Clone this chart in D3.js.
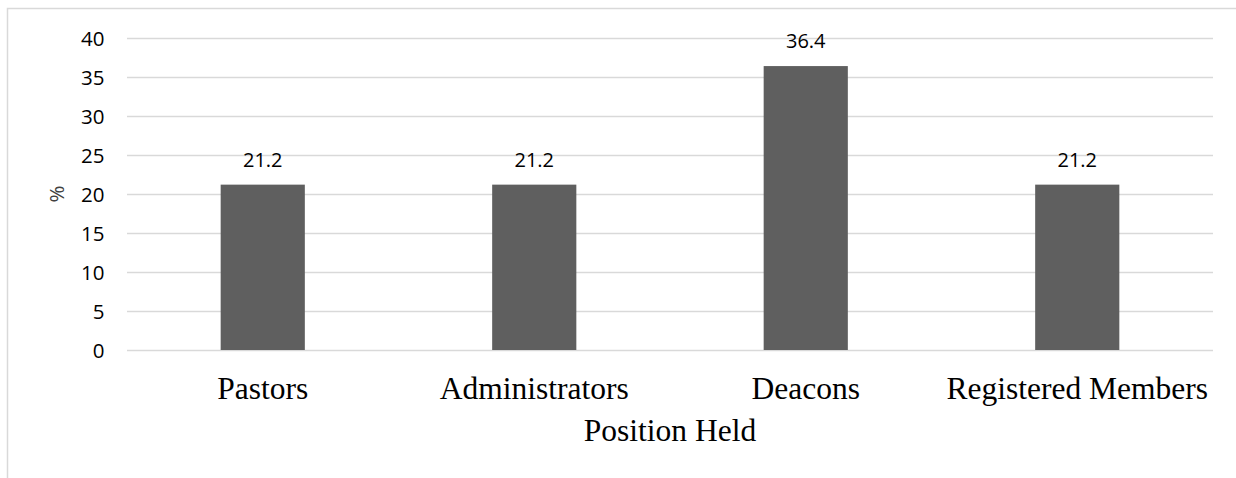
<!DOCTYPE html>
<html>
<head>
<meta charset="utf-8">
<script src="https://cdn.jsdelivr.net/npm/d3@7"></script>
<style>
  html, body { margin: 0; padding: 0; background: #fff; }
  svg { display: block; }
</style>
</head>
<body>
<svg id="chart" width="1236" height="478"></svg>
<script>
// Share of respondents by position held (%)
const categories = ["Pastors", "Administrators", "Deacons", "Registered Members"];
const percentages = [21.2, 21.2, 36.4, 21.2];
const yTicks = [0, 5, 10, 15, 20, 25, 30, 35, 40];

const svg = d3.select("#chart");
const W = 1236, H = 478;
const plot = { left: 127, right: 1213, top: 38, bottom: 350 };
const sans = "'Open Sans', sans-serif";
const serif = "'Liberation Serif', 'Times New Roman', serif";

// chart area frame
svg.append("rect")
  .attr("x", 7.5).attr("y", 8.5)
  .attr("width", W + 10).attr("height", H + 10)
  .attr("fill", "#fff")
  .attr("stroke", "#d9d9d9").attr("stroke-width", 1.5);

const x = d3.scaleBand()
  .domain(categories)
  .range([plot.left, plot.right])
  .paddingInner(0.69)
  .paddingOuter(0.345);

const y = d3.scaleLinear()
  .domain([0, 40])
  .range([plot.bottom, plot.top]);

// horizontal gridlines
svg.append("g")
  .selectAll("line")
  .data(yTicks)
  .join("line")
  .attr("x1", plot.left).attr("x2", plot.right)
  .attr("y1", d => Math.round(y(d)) + 0.5)
  .attr("y2", d => Math.round(y(d)) + 0.5)
  .attr("stroke", "#d9d9d9").attr("stroke-width", 1.3);

// y axis labels
const yAxis = d3.axisLeft(y).tickValues(yTicks).tickSize(0).tickPadding(0);
const gy = svg.append("g")
  .attr("transform", `translate(${104.5},0)`)
  .call(yAxis);
gy.select(".domain").remove();
gy.selectAll("text")
  .attr("font-family", sans)
  .attr("font-size", 20.5)
  .attr("fill", "#000")
  .attr("dy", "0.35em");

// bars
svg.append("g")
  .selectAll("rect")
  .data(categories)
  .join("rect")
  .attr("x", d => x(d))
  .attr("width", x.bandwidth())
  .attr("y", (d, i) => y(percentages[i]))
  .attr("height", (d, i) => y(0) - y(percentages[i]))
  .attr("fill", "#5f5f5f");

// value labels
svg.append("g")
  .selectAll("text")
  .data(categories)
  .join("text")
  .attr("x", d => x(d) + x.bandwidth() / 2)
  .attr("y", (d, i) => y(percentages[i]) - 18)
  .attr("text-anchor", "middle")
  .attr("font-family", sans)
  .attr("font-size", 20)
  .attr("fill", "#000")
  .text((d, i) => percentages[i].toFixed(1));

// category labels
const xAxis = d3.axisBottom(x).tickSize(0).tickPadding(0);
const gx = svg.append("g")
  .attr("transform", `translate(0,${plot.bottom})`)
  .call(xAxis);
gx.select(".domain").remove();
gx.selectAll("text")
  .attr("font-family", serif)
  .attr("font-size", 31.5)
  .attr("fill", "#000")
  .attr("dy", null)
  .attr("y", 49);

// axis titles
svg.append("text")
  .attr("x", (plot.left + plot.right) / 2)
  .attr("y", 441)
  .attr("text-anchor", "middle")
  .attr("font-family", serif)
  .attr("font-size", 31.5)
  .attr("fill", "#000")
  .text("Position Held");

svg.append("text")
  .attr("transform", `translate(64,${(plot.top + plot.bottom) / 2}) rotate(-90)`)
  .attr("text-anchor", "middle")
  .attr("font-family", sans)
  .attr("font-size", 20.5)
  .attr("fill", "#404040")
  .text("%");
</script>
</body>
</html>
